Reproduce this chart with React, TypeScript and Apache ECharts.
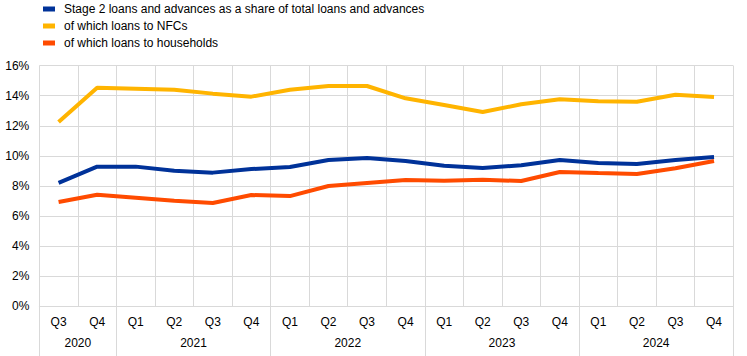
import React, { useEffect, useRef } from "react";
import * as echarts from "echarts";

const quarters = ["Q3","Q4","Q1","Q2","Q3","Q4","Q1","Q2","Q3","Q4","Q1","Q2","Q3","Q4","Q1","Q2","Q3","Q4"];
const quarterYears = ["2020","2020","2021","2021","2021","2021","2022","2022","2022","2022","2023","2023","2023","2023","2024","2024","2024","2024"];
const years = ["2020","2021","2022","2023","2024"];

const stage2Total = [8.2, 9.28, 9.28, 9.0, 8.88, 9.12, 9.25, 9.72, 9.85, 9.65, 9.34, 9.19, 9.37, 9.72, 9.52, 9.45, 9.72, 9.92];
const stage2NFC = [12.25, 14.53, 14.47, 14.4, 14.14, 13.94, 14.4, 14.65, 14.65, 13.83, 13.38, 12.92, 13.43, 13.76, 13.63, 13.6, 14.07, 13.92];
const stage2HH = [6.92, 7.41, 7.21, 7.01, 6.86, 7.39, 7.32, 7.99, 8.19, 8.39, 8.34, 8.41, 8.32, 8.92, 8.85, 8.79, 9.17, 9.65];

const seriesNames = [
  "Stage 2 loans and advances as a share of total loans and advances",
  "of which loans to NFCs",
  "of which loans to households",
];
const colors = ["#003299", "#FFB400", "#FF4B00"];

const FONT = 'Arial, "Liberation Sans", sans-serif';
const GRID = "#d9d9d9";

export default function App() {
  const ref = useRef<HTMLDivElement>(null);
  useEffect(() => {
    if (!ref.current) return;
    const chart = echarts.init(ref.current, undefined, { renderer: "svg" });

    const qKeys = quarters.map((q, i) => quarterYears[i] + "-" + q);
    const halfSlots: string[] = [];
    const yearLabelAt: Record<number, string> = {};
    const sepAt: Record<number, boolean> = {};
    let k = 0;
    sepAt[0] = true;
    years.forEach((y) => {
      const n = quarterYears.filter((v) => v === y).length;
      yearLabelAt[k + n] = y;
      k += 2 * n;
      sepAt[k] = true;
    });
    for (let i = 0; i <= quarters.length * 2; i++) halfSlots.push("s" + i);

    chart.setOption({
      animation: false,
      textStyle: { fontFamily: FONT },
      color: colors,
      legend: {
        orient: "vertical",
        left: 38,
        top: -2,
        itemWidth: 12,
        itemHeight: 5,
        itemGap: 5,
        icon: "rect",
        textStyle: { fontFamily: FONT, fontSize: 12, color: "#000", padding: [0, 0, 0, 4] },
        data: seriesNames,
      },
      grid: { left: 39.3, right: 13.7, top: 65.7, bottom: 50, containLabel: false },
      xAxis: [
        {
          type: "category",
          data: qKeys,
          boundaryGap: true,
          axisLine: { show: true, lineStyle: { color: GRID, width: 1 } },
          axisTick: { show: false },
          splitLine: { show: true, lineStyle: { color: GRID, width: 1 } },
          axisLabel: {
            interval: 0,
            margin: 10,
            fontSize: 12,
            color: "#000",
            fontFamily: FONT,
            formatter: (v: string) => v.split("-")[1],
          },
        },
        {
          type: "category",
          data: halfSlots,
          boundaryGap: false,
          position: "bottom",
          axisLine: { show: false },
          axisTick: {
            show: true,
            length: 50,
            interval: (i: number) => !!sepAt[i],
            lineStyle: { color: GRID, width: 1 },
          },
          splitLine: { show: false },
          axisLabel: {
            interval: (i: number) => !!yearLabelAt[i],
            margin: 31,
            fontSize: 12,
            color: "#000",
            fontFamily: FONT,
            formatter: (_v: string, i: number) => yearLabelAt[i] || "",
          },
        },
      ],
      yAxis: {
        type: "value",
        min: 0,
        max: 16,
        interval: 2,
        axisLine: { show: false },
        axisTick: { show: false },
        splitLine: { show: true, lineStyle: { color: GRID, width: 1 } },
        axisLabel: { formatter: "{value}%", fontSize: 12, color: "#000", margin: 10, fontFamily: FONT },
      },
      series: [stage2Total, stage2NFC, stage2HH].map((d, i) => ({
        name: seriesNames[i],
        type: "line",
        data: d,
        xAxisIndex: 0,
        symbol: "none",
        lineStyle: { width: 4, color: colors[i] },
        itemStyle: { color: colors[i] },
        z: i === 0 ? 4 : 3,
      })),
    });
    return () => chart.dispose();
  }, []);
  return (
    <div
      ref={ref}
      style={{ position: "absolute", left: 0, top: 0, width: 747, height: 356, background: "#fff" }}
    />
  );
}
